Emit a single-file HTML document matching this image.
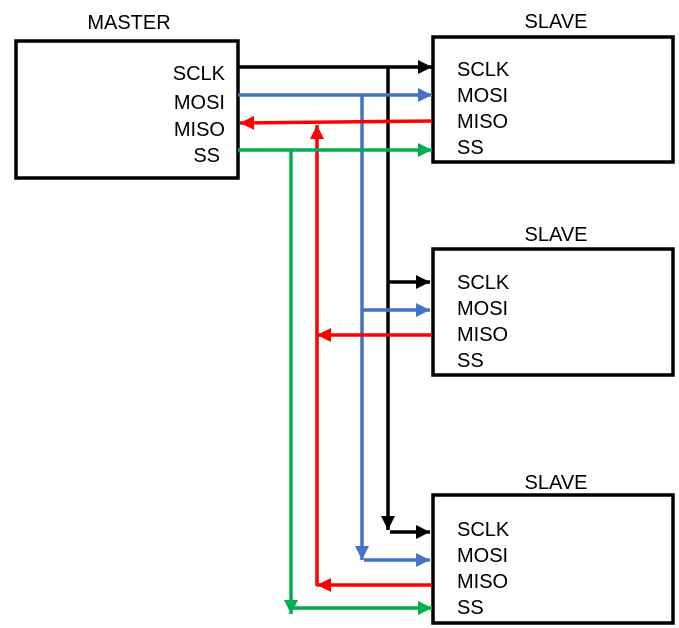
<!DOCTYPE html>
<html><head><style>body{margin:0;background:#fff}svg{display:block}text{font-family:"Liberation Sans",sans-serif;font-size:20px;fill:#000}</style></head>
<body>
<svg width="679" height="628" viewBox="0 0 679 628" xmlns="http://www.w3.org/2000/svg">
<defs>
<marker id="k" markerWidth="4" markerHeight="4" refX="4" refY="2" orient="auto" markerUnits="strokeWidth"><path d="M0,0L4,2L0,4Z" fill="#000"/></marker>
<marker id="b" markerWidth="4" markerHeight="4" refX="4" refY="2" orient="auto" markerUnits="strokeWidth"><path d="M0,0L4,2L0,4Z" fill="#4472C4"/></marker>
<marker id="r" markerWidth="4" markerHeight="4" refX="4" refY="2" orient="auto" markerUnits="strokeWidth"><path d="M0,0L4,2L0,4Z" fill="#FF0000"/></marker>
<marker id="g" markerWidth="4" markerHeight="4" refX="4" refY="2" orient="auto" markerUnits="strokeWidth"><path d="M0,0L4,2L0,4Z" fill="#00B050"/></marker>
</defs>
<g fill="none" stroke="#000" stroke-width="3.5">
<rect x="16" y="41" width="222" height="137"/>
<rect x="433" y="37" width="240" height="125"/>
<rect x="433" y="249" width="240" height="126"/>
<rect x="433" y="495" width="240" height="128"/>
</g>
<g fill="none" stroke-width="3.5">
<g stroke="#000">
<line x1="238" y1="67" x2="432" y2="67" marker-end="url(#k)"/>
<line x1="388" y1="67" x2="388" y2="530" marker-end="url(#k)"/>
<line x1="388" y1="282" x2="430" y2="282" marker-end="url(#k)"/>
<line x1="390" y1="532" x2="430" y2="532" marker-end="url(#k)"/>
</g>
<g stroke="#4472C4">
<line x1="238" y1="95" x2="432" y2="95" marker-end="url(#b)"/>
<line x1="362" y1="95" x2="362" y2="560" marker-end="url(#b)"/>
<line x1="362" y1="310" x2="430" y2="310" marker-end="url(#b)"/>
<line x1="364" y1="560" x2="430" y2="560" marker-end="url(#b)"/>
</g>
<g stroke="#FF0000">
<line x1="432" y1="121" x2="240" y2="123" marker-end="url(#r)"/>
<line x1="317" y1="586" x2="317" y2="125" marker-end="url(#r)"/>
<line x1="432" y1="335" x2="317" y2="335" marker-end="url(#r)"/>
<line x1="432" y1="585" x2="317" y2="585" marker-end="url(#r)"/>
</g>
<g stroke="#00B050">
<line x1="238" y1="150" x2="432" y2="150" marker-end="url(#g)"/>
<line x1="291" y1="150" x2="291" y2="614" marker-end="url(#g)"/>
<line x1="291" y1="608" x2="432" y2="608" marker-end="url(#g)"/>
</g>
</g>
<text x="129" y="29" text-anchor="middle">MASTER</text>
<g text-anchor="end">
<text x="225" y="80">SCLK</text><text x="225" y="109">MOSI</text><text x="225" y="136">MISO</text><text x="220" y="162">SS</text>
</g>
<text x="556" y="28" text-anchor="middle">SLAVE</text>
<text x="556" y="241" text-anchor="middle">SLAVE</text>
<text x="556" y="489" text-anchor="middle">SLAVE</text>
<g>
<text x="457" y="76">SCLK</text><text x="457" y="102">MOSI</text><text x="457" y="128">MISO</text><text x="457" y="154">SS</text>
<text x="457" y="289">SCLK</text><text x="457" y="315">MOSI</text><text x="457" y="341">MISO</text><text x="457" y="367">SS</text>
<text x="457" y="536">SCLK</text><text x="457" y="562">MOSI</text><text x="457" y="588">MISO</text><text x="457" y="614">SS</text>
</g>
</svg>
</body></html>
